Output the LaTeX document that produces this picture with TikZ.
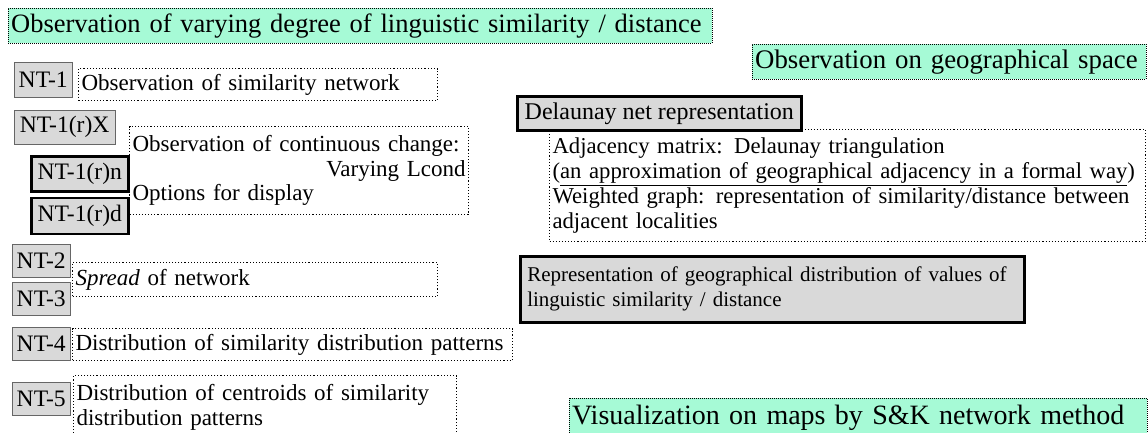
\documentclass[tikz,border=0pt]{standalone}
\usepackage{fontspec}
\setmainfont{Liberation Serif}
\usetikzlibrary{positioning}
\definecolor{mint}{RGB}{166,250,214}
\definecolor{boxgrey}{RGB}{217,217,217}

\begin{document}
\begin{tikzpicture}[x=1pt,y=-1pt,node distance=4pt,
    font=\fontsize{23}{24.8}\selectfont]
  \tikzstyle{title}=[draw=black,fill=mint,dash pattern=on 1pt off 1pt,anchor=north west,
                     align=left,inner xsep=3pt,inner ysep=0pt,font=\fontsize{26.5}{28}\selectfont,minimum height=35pt]
  \tikzstyle{ntbox}=[draw=black!60,fill=boxgrey,anchor=north west,inner sep=0pt,
                     font=\fontsize{23.6}{26}\selectfont,minimum height=34pt]
  \tikzstyle{ntthick}=[ntbox,draw=black,line width=2.6pt]
  \tikzstyle{note}=[draw=black,dotted,line width=1.1pt,anchor=north west,align=left,
                    inner xsep=3pt,inner ysep=0pt]

  \useasboundingbox (0,0) rectangle (1148,432);

  % left column: similarity network
  \node[title,text width=698pt] (obsdeg) at (8,8) {Observation of varying degree of linguistic similarity / distance};

  \node[ntbox,minimum width=58pt,minimum height=35pt] (nt1) at (14,62) {NT-1};
  \node[note,text width=353pt,minimum height=32pt] (nt1txt) at (78,68) {Observation of similarity network};

  \node[ntbox,minimum width=101pt] (nt1x) at (14,110) {NT-1(r)X};
  \node[ntthick,minimum width=97pt,minimum height=35pt] (nt1n) at (30,155) {NT-1(r)n};
  \node[ntthick,minimum width=97pt,minimum height=36pt,below=4pt of nt1n.south west,anchor=north west] (nt1d) {NT-1(r)d};
  \node[note,text width=333pt,minimum height=88pt] (nt1xtxt) at (129,126)
    {Observation of continuous change:\\ \mbox{}\hfill Varying Lcond\\ Options for display};

  \node[ntbox,minimum width=58pt,minimum height=33pt] (nt2) at (12,244) {NT-2};
  \node[ntbox,minimum width=58pt,minimum height=33pt,below=5pt of nt2.south west,anchor=north west] (nt3) {NT-3};
  \node[note,text width=359pt,minimum height=34pt] (spread) at (72,262) {\textit{Spread} of network};

  \node[ntbox,minimum width=58pt,minimum height=33pt] (nt4) at (12,327) {NT-4};
  \node[note,text width=434pt,minimum height=32pt] (nt4txt) at (72,328) {Distribution of similarity distribution patterns};

  \node[ntbox,minimum width=58pt,minimum height=33pt] (nt5) at (12,382) {NT-5};
  \node[note,text width=377pt,minimum height=64pt] (nt5txt) at (73,375)
    {Distribution of centroids of similarity\\ distribution patterns};

  % right column: geographical space
  \node[title,text width=388pt,font=\fontsize{26.8}{28}\selectfont] (obsgeo) at (752,44) {Observation on geographical space};

  \node[ntthick,minimum width=284pt,minimum height=34pt,inner xsep=3pt,font=\fontsize{24}{26}\selectfont] (delnet) at (516,95)
    {Delaunay net representation};
  \node[note,text width=590pt,minimum height=112pt,font=\fontsize{22.7}{24.8}\selectfont] (deltxt) at (549,129)
    {Adjacency matrix: Delaunay triangulation\\
     (\underline{an approximation of geographical adjacency in a formal way})\\
     Weighted graph: representation of similarity/distance between\\
     adjacent localities};

  \node[ntthick,text width=490pt,minimum height=66pt,inner xsep=7pt,align=left,
        font=\fontsize{21}{25}\selectfont] (repgeo) at (519,255)
    {Representation of geographical distribution of values of\\ linguistic similarity / distance};

  \node[title,text width=572pt,minimum height=40pt,font=\fontsize{28}{30}\selectfont] (vismap) at (569,398)
    {Visualization on maps by S\&K network method};
\end{tikzpicture}
\end{document}
